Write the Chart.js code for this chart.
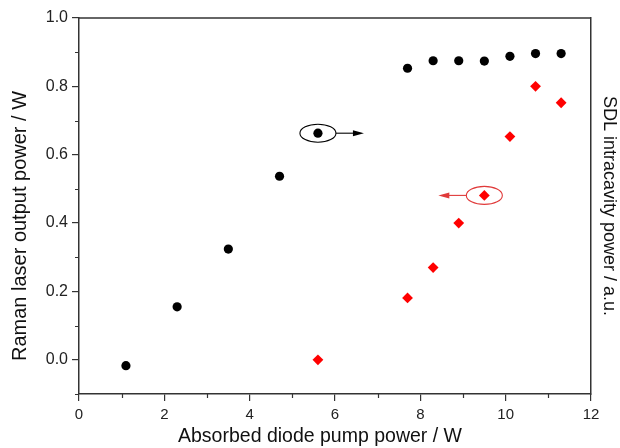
<!DOCTYPE html>
<html>
<head>
<meta charset="utf-8">
<script src="https://cdn.jsdelivr.net/npm/chart.js@4/dist/chart.umd.min.js"></script>
<style>
html,body{margin:0;padding:0;background:#fff;}
#wrap{width:620px;height:448px;}
</style>
</head>
<body>
<div id="wrap"><canvas id="c" width="620" height="448"></canvas></div>
<script>
// ---- data ----
const ramanX = [1.1, 2.3, 3.5, 4.7, 5.6, 7.7, 8.3, 8.9, 9.5, 10.1, 10.7, 11.3];
const ramanY = [-0.017, 0.155, 0.324, 0.537, 0.663, 0.853, 0.875, 0.875, 0.874, 0.888, 0.896, 0.896];
const sdlX = [5.6, 7.7, 8.3, 8.9, 9.5, 10.1, 10.7, 11.3];
const sdlY = [0.0, 0.181, 0.270, 0.400, 0.481, 0.653, 0.800, 0.752];
const xTicks = [0, 2, 4, 6, 8, 10, 12];
const xMinorTicks = [1, 3, 5, 7, 9, 11];
const yTicks = [0.0, 0.2, 0.4, 0.6, 0.8, 1.0];
const yMinorTicks = [-0.1, 0.1, 0.3, 0.5, 0.7, 0.9];
const xTitle = 'Absorbed diode pump power / W';
const yTitle = 'Raman laser output power / W';
const y2Title = 'SDL intracavity power / a.u.';
// circled points (dataset index, point index, arrow direction)
const circled = [
  {ds: 0, idx: 4, dir: 1, color: '#000000'},
  {ds: 1, idx: 4, dir: -1, color: '#e03a3a'}
];

const FONT = 'Liberation Sans, Arial, Helvetica, sans-serif';
const AXIS = '#333333';

const frame = {
  id: 'frame',
  afterDraw(chart) {
    const ctx = chart.ctx, a = chart.chartArea;
    const xs = chart.scales.x, ys = chart.scales.y;
    ctx.save();
    ctx.strokeStyle = AXIS;
    ctx.lineWidth = 1.5;
    ctx.beginPath();
    ctx.moveTo(a.left, a.top);
    ctx.lineTo(a.right, a.top);
    ctx.stroke();
    ctx.lineWidth = 1.2;
    ctx.beginPath();
    xMinorTicks.forEach(v => {
      const px = Math.round(xs.getPixelForValue(v)) + 0.5;
      ctx.moveTo(px, a.bottom);
      ctx.lineTo(px, a.bottom + 4);
    });
    yMinorTicks.forEach(v => {
      const py = Math.round(ys.getPixelForValue(v)) + 0.5;
      ctx.moveTo(a.left, py);
      ctx.lineTo(a.left - 4, py);
    });
    ctx.stroke();
    // axis titles (placed as in the reference)
    ctx.fillStyle = '#111';
    ctx.textAlign = 'center';
    ctx.textBaseline = 'middle';
    ctx.font = '19.5px ' + FONT;
    ctx.fillText(xTitle, 320, 437);
    ctx.save();
    ctx.translate(20, 226);
    ctx.rotate(-Math.PI / 2);
    ctx.font = '20px ' + FONT;
    ctx.fillText(yTitle, 0, 0);
    ctx.restore();
    ctx.restore();
  },
  afterDatasetsDraw(chart) {
    const ctx = chart.ctx;
    ctx.save();
    circled.forEach(c => {
      const el = chart.getDatasetMeta(c.ds).data[c.idx];
      const cx = el.x, cy = el.y;
      const rx = 18, ry = 9;
      ctx.strokeStyle = c.color;
      ctx.fillStyle = c.color;
      ctx.lineWidth = 1.1;
      ctx.beginPath();
      ctx.ellipse(cx, cy, rx, ry, 0, 0, Math.PI * 2);
      ctx.stroke();
      const x0 = cx + c.dir * rx;
      const x1 = cx + c.dir * 46;
      ctx.beginPath();
      ctx.moveTo(x0, cy);
      ctx.lineTo(x1 - c.dir * 9, cy);
      ctx.stroke();
      ctx.beginPath();
      ctx.moveTo(x1, cy);
      ctx.lineTo(x1 - c.dir * 11, cy - 3);
      ctx.lineTo(x1 - c.dir * 11, cy + 3);
      ctx.closePath();
      ctx.fill();
    });
    ctx.restore();
  }
};

new Chart(document.getElementById('c'), {
  type: 'scatter',
  data: {
    datasets: [
      {
        label: 'Raman',
        data: ramanX.map((x, i) => ({x: x, y: ramanY[i]})),
        pointStyle: 'circle',
        pointRadius: 4.6,
        pointHoverRadius: 4.6,
        backgroundColor: '#000000',
        borderColor: '#000000',
        borderWidth: 0
      },
      {
        label: 'SDL',
        data: sdlX.map((x, i) => ({x: x, y: sdlY[i]})),
        pointStyle: 'rectRot',
        pointRadius: 5.4,
        pointHoverRadius: 5.4,
        backgroundColor: '#ff0000',
        borderColor: '#ff0000',
        borderWidth: 0
      }
    ]
  },
  options: {
    responsive: false,
    animation: false,
    events: [],
    layout: {padding: {top: 18, left: 0, right: 0, bottom: 0}},
    plugins: {legend: {display: false}, tooltip: {enabled: false}},
    scales: {
      x: {
        type: 'linear',
        min: 0, max: 12,
        afterBuildTicks: s => { s.ticks = xTicks.map(v => ({value: v})); },
        afterFit: s => { s.height = 54; },
        grid: {display: true, drawOnChartArea: false, drawTicks: true, tickLength: 7, color: AXIS, lineWidth: 1.2},
        border: {display: true, color: AXIS, width: 1.5},
        ticks: {color: '#222', font: {family: FONT, size: 15}, padding: 5, maxRotation: 0,
          callback: v => String(v)},
        title: {display: false}
      },
      y: {
        type: 'linear',
        position: 'left',
        min: -0.1, max: 1.0,
        afterBuildTicks: s => { s.ticks = yTicks.map(v => ({value: v})); },
        afterFit: s => { s.width = 79; },
        grid: {display: true, drawOnChartArea: false, drawTicks: true, tickLength: 7, color: AXIS, lineWidth: 1.2},
        border: {display: true, color: AXIS, width: 1.5},
        ticks: {color: '#222', font: {family: FONT, size: 16}, padding: 4,
          callback: v => Number(v).toFixed(1)},
        title: {display: false}
      },
      y2: {
        type: 'linear',
        position: 'right',
        min: -0.1, max: 1.0,
        afterFit: s => { s.width = 29; },
        grid: {display: false, drawOnChartArea: false, drawTicks: false},
        border: {display: true, color: AXIS, width: 1.5},
        ticks: {display: false},
        title: {display: true, text: y2Title, color: '#111', font: {family: FONT, size: 18}, padding: {top: 0, bottom: 0}}
      }
    }
  },
  plugins: [frame]
});
</script>
</body>
</html>
